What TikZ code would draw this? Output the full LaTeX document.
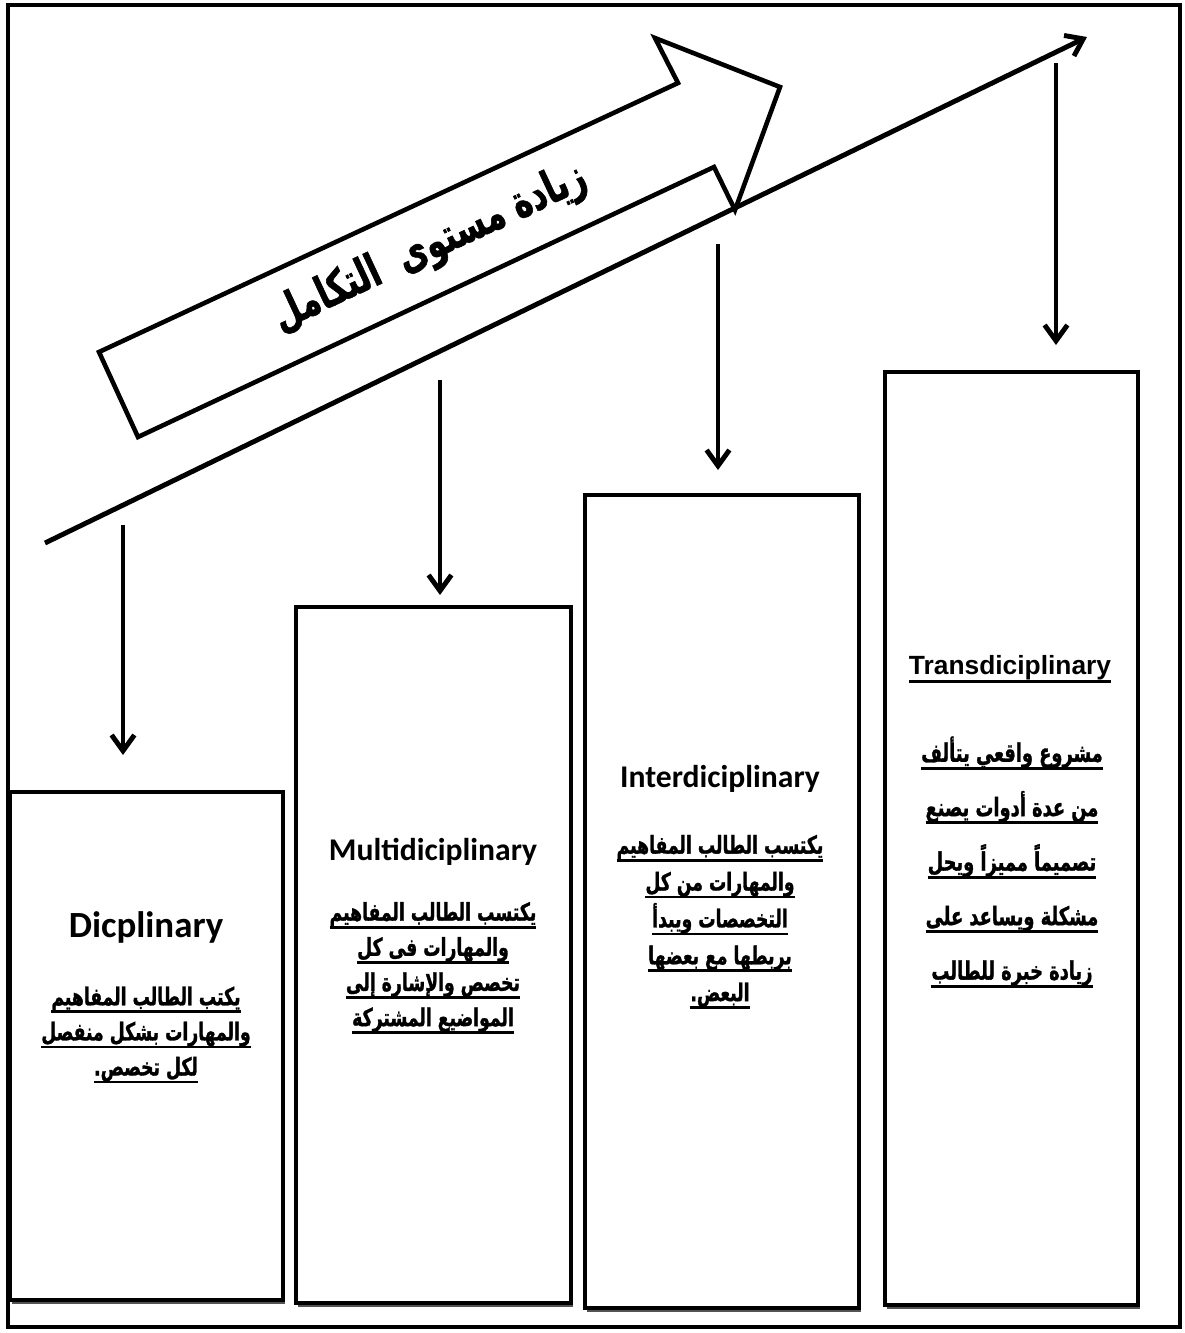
\documentclass[tikz,border=0pt]{standalone}
\usepackage{fontspec}
\setmainfont{Carlito}
\newfontfamily\arialfont{Liberation Sans}
\newfontfamily\arabicfont[Script=Arabic,FakeStretch=0.7,BoldFeatures={FakeBold=1.2}]{DejaVu Sans}
\TeXXeTstate=1
\usetikzlibrary{positioning, arrows.meta, fit, shadows}
\newsavebox\ulsave
\newcommand\ulbox[1]{\sbox\ulsave{#1}\rlap{\raisebox{-4.5pt}{\rule{\wd\ulsave}{1.6pt}}}\usebox\ulsave}
\newcommand\arline[1]{\ulbox{\beginR #1\endR}}

\begin{document}
\begin{tikzpicture}[x=0.02cm, y=-0.02cm]
    \tikzset{box/.style={draw,line width=2.2pt,fill=white,inner sep=0pt,drop shadow={shadow xshift=1pt,shadow yshift=-2pt,fill=black!75,opacity=.9}}, ttl/.style={font=\bfseries\fontsize{18}{22}\selectfont}, arab/.style={align=center,font=\arabicfont\bfseries\fontsize{14}{20}\selectfont}, down/.style={line width=2.8pt,-{Straight Barb[length=9pt,width=13pt]}}}
    \useasboundingbox (0,0) rectangle (1185,1333);
    \draw[line width=2.3pt] (8,5) rectangle (1180,1327);
    % rising line and the block arrow on it
    \coordinate (lo) at (45,543); \coordinate (hi) at (1087,37);
    \draw[down] (lo) -- (hi);
    \draw[line width=2.6pt,fill=white] (138,437) -- (99,352) -- (678,83) -- (655,38) -- (780,87) -- (735,210) -- (714,167) -- cycle;
    \node[rotate=25,font=\arabicfont\bfseries\fontsize{26}{28}\selectfont] (lvl) at (430,248) {\beginR زيادة مستوى\ \ التكامل\endR};
    % the four levels
    \node[box,fit={(10,792) (283,1300)}] (dis) {};
    \node[box,fit={(296,607) (571,1303)}] (multi) {};
    \node[box,fit={(585,495) (859,1308)}] (inter) {};
    \node[box,fit={(885,372) (1138,1305)}] (trans) {};
    \node[ttl,font=\bfseries\fontsize{21}{24}\selectfont] (disT) at (146,927) {Dicplinary};
    \node[arab] (disA) at (146,1035) {\arline{يكتب الطالب المفاهيم}\\ \arline{والمهارات بشكل منفصل}\\ \arline{لكل تخصص.}};
    \node[ttl] (multiT) at (433,852) {Multidiciplinary};
    \node[arab] (multiA) at (433,968) {\arline{يكتسب الطالب المفاهيم}\\ \arline{والمهارات فى كل}\\ \arline{تخصص والإشارة إلى}\\ \arline{المواضيع المشتركة}};
    \node[ttl] (interT) at (720,779) {Interdiciplinary};
    \node[arab,font=\arabicfont\bfseries\fontsize{14}{21}\selectfont] (interA) at (720,922) {\arline{يكتسب الطالب المفاهيم}\\ \arline{والمهارات من كل}\\ \arline{التخصصات ويبدأ}\\ \arline{بربطها مع بعضها}\\ \arline{البعض.}};
    \node[font=\arialfont\bfseries\fontsize{15}{18}\selectfont] (transT) at (1010,669) {\ulbox{Transdiciplinary}};
    \node[arab,font=\arabicfont\bfseries\fontsize{14.5}{31}\selectfont] (transA) at (1012,862) {\arline{مشروع واقعي يتألف}\\ \arline{من عدة أدوات يصنع}\\ \arline{تصميماً مميزاً ويحل}\\ \arline{مشكلة ويساعد على}\\ \arline{زيادة خبرة للطالب}};
    \foreach \i/\x/\ya/\yb in {1/123/525/755, 2/440/380/595, 3/718/244/470, 4/1056/63/345} {
      \coordinate (s\i) at (\x,\ya); \coordinate (e\i) at (\x,\yb);
      \draw[down] (s\i) -- (e\i);}
\end{tikzpicture}
\end{document}
